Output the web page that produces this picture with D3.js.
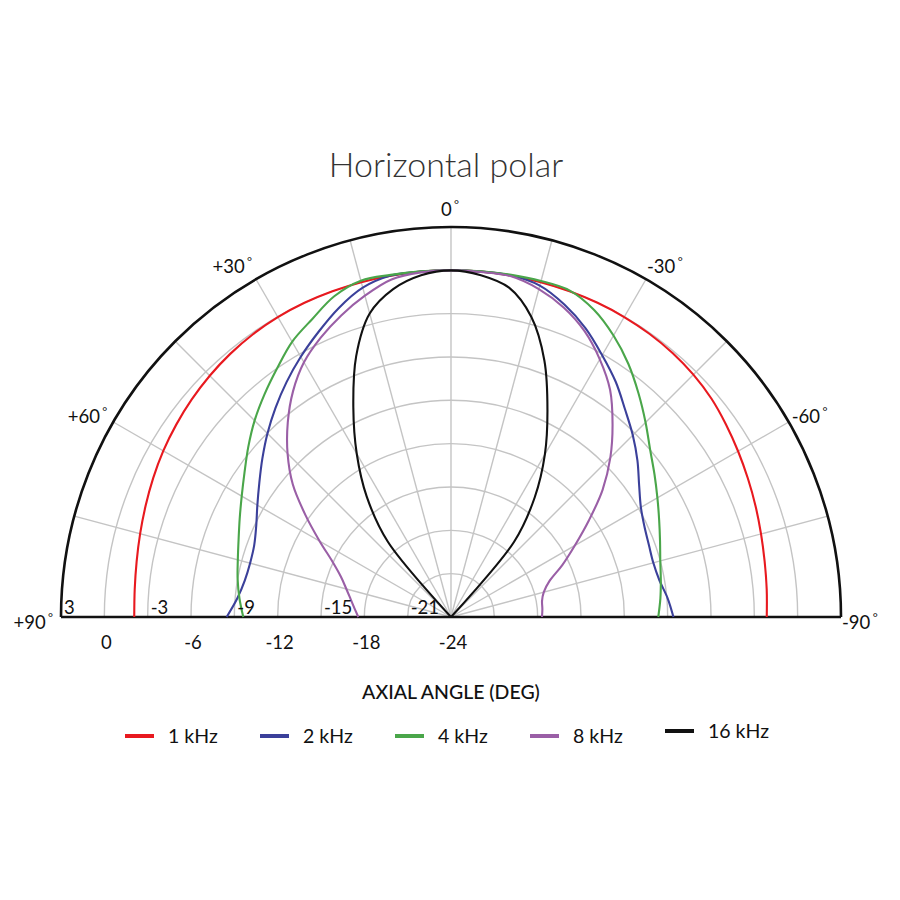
<!DOCTYPE html>
<html>
<head>
<meta charset="utf-8">
<script src="https://cdn.jsdelivr.net/npm/d3@7"></script>
<style>
  body { margin: 0; background: #fff; }
  text { font-family: Lato, "Open Sans", sans-serif; }
</style>
</head>
<body>
<div class="chart"></div>
<script>
var svgWidth = 900;
var svgHeight = 900;

// axial angle in degrees, + is left of axis, - is right
var angles = [90, 85, 80, 75, 70, 65, 60, 55, 50, 45, 40, 35, 30, 25, 20, 15, 10, 5,
  0, -5, -10, -15, -20, -25, -30, -35, -40, -45, -50, -55, -60, -65, -70, -75, -80, -85, -90];

var freqNames = ["1 kHz", "2 kHz", "4 kHz", "8 kHz", "16 kHz"];

// level in dB relative to on-axis, one value per angle
var level1k = [-2.07, -2.02, -1.9, -1.72, -1.5, -1.25, -1.0, -0.78, -0.57, -0.38, -0.22, -0.1, -0.03, 0, 0, 0, 0, 0,
  0, 0, 0, 0, 0, 0, -0.02, -0.06, -0.14, -0.27, -0.47, -0.76, -1.05, -1.32, -1.56, -1.78, -1.95, -2.06, -2.14];
var level2k = [-8.47, -9.15, -9.5, -9.6, -9.5, -9.12, -8.52, -7.8, -6.95, -6.03, -5.1, -4.15, -3.2, -2.25, -1.25, -0.4, 0, 0,
  0, 0, 0, -0.25, -1.0, -1.95, -3.07, -4.12, -5.25, -6.2, -7.15, -8.1, -8.82, -9.22, -9.42, -9.5, -9.35, -8.95, -8.6];
var level4k = [-9.62, -9.3, -9.0, -8.72, -8.35, -7.86, -7.27, -6.55, -5.68, -4.77, -3.9, -3.0, -2.0, -1.25, -0.37, 0.1, 0.05, 0.02,
  0, 0.02, 0.05, 0.08, 0.05, -0.55, -1.5, -2.6, -3.8, -4.95, -6.0, -6.8, -7.5, -8.1, -8.6, -9.0, -9.25, -9.45, -9.65];
var level8k = [-17.58, -17.3, -16.95, -16.5, -15.9, -14.95, -13.5, -11.7, -9.7, -8.0, -6.42, -4.93, -3.64, -2.66, -1.78, -0.97, -0.27, -0.05,
  0, -0.02, -0.05, -0.5, -1.2, -2.15, -3.4, -4.8, -6.6, -8.4, -10.3, -12.35, -14.1, -15.5, -16.75, -17.35, -17.6, -17.65, -17.7];
var level16k = [-24, -24, -24, -24, -24, -24, -24, -24, -24, -24, -17.2, -13.83, -10.95, -8.0, -4.8, -2.25, -0.95, -0.25,
  0, -0.25, -0.85, -2.5, -5.1, -8.2, -11.0, -13.9, -17.2, -24, -24, -24, -24, -24, -24, -24, -24, -24, -24];

var gridLevels = [-21, -18, -15, -12, -9, -6, -3, 0];
var upperTicks = [3, -3, -9, -15, -21];
var lowerTicks = [0, -6, -12, -18, -24];
var spokeAngles = [75, 60, 45, 30, 15, 0, -15, -30, -45, -60, -75];
var angleLabels = [90, 60, 30, 0, -30, -60, -90];

var colors = ["#e8191f", "#3b409a", "#4aa64a", "#9a5fa6", "#111111"];
var series = [level1k, level2k, level4k, level8k, level16k];

var cx = 451, cy = 617;
var R = 390;

var svg = d3.select(".chart")
  .append("svg")
  .attr("width", svgWidth)
  .attr("height", svgHeight);

svg.append("text")
  .attr("x", 446)
  .attr("y", 177)
  .attr("text-anchor", "middle")
  .attr("font-size", "34px")
  .attr("font-weight", 300)
  .attr("fill", "#333")
  .text("Horizontal polar");

var rScale = d3.scaleLinear().domain([-24, 3]).range([0, R]);
var rad = d => d * Math.PI / 180;

var chart = svg.append("g")
  .attr("transform", `translate(${cx}, ${cy})`);

// grid circles
var arc = d3.arc().startAngle(-Math.PI / 2).endAngle(Math.PI / 2);
chart.selectAll(".ring")
  .data(gridLevels)
  .enter()
  .append("path")
  .attr("d", d => arc({innerRadius: rScale(d), outerRadius: rScale(d)}))
  .attr("fill", "none")
  .attr("stroke", "#c4c4c4")
  .attr("stroke-width", 1.4);

// spokes
chart.selectAll(".spoke")
  .data(spokeAngles)
  .enter()
  .append("line")
  .attr("x1", 0)
  .attr("y1", 0)
  .attr("x2", d => -R * Math.sin(rad(d)))
  .attr("y2", d => -R * Math.cos(rad(d)))
  .attr("stroke", "#c4c4c4")
  .attr("stroke-width", 1.4);

// outer edge and baseline
chart.append("path")
  .attr("d", arc({innerRadius: R, outerRadius: R}))
  .attr("fill", "none")
  .attr("stroke", "#111")
  .attr("stroke-width", 2.6);

chart.append("line")
  .attr("x1", -R)
  .attr("x2", R)
  .attr("y1", 0)
  .attr("y2", 0)
  .attr("stroke", "#111")
  .attr("stroke-width", 2.6);

// curves
var line = d3.lineRadial()
  .angle(d => -rad(d.a))
  .radius(d => rScale(Math.max(-24, d.v)))
  .curve(d3.curveCatmullRom.alpha(0.5));

series.forEach(function (vals, i) {
  var pts = angles.map((a, j) => ({a: a, v: vals[j]}));
  chart.append("path")
    .attr("d", line(pts))
    .attr("fill", "none")
    .attr("stroke", colors[i])
    .attr("stroke-width", 2.1);
});

// dB labels on the baseline
chart.selectAll(".uptick")
  .data(upperTicks)
  .enter()
  .append("text")
  .attr("x", d => -rScale(d) + 3)
  .attr("y", -3)
  .attr("font-size", "18.5px")
  .attr("fill", "#111")
  .text(d => d);

chart.selectAll(".lowtick")
  .data(lowerTicks)
  .enter()
  .append("text")
  .attr("x", d => -rScale(d) + 2)
  .attr("y", 32)
  .attr("text-anchor", "middle")
  .attr("font-size", "18.5px")
  .attr("fill", "#111")
  .text(d => d);

// angle labels round the rim
angleLabels.forEach(function (a) {
  var px = -R * Math.sin(rad(a));
  var py = -R * Math.cos(rad(a));
  var anchor = a > 0 ? "end" : (a < 0 ? "start" : "middle");
  var dx, dy;
  if (Math.abs(a) == 90) { dx = a > 0 ? -8 : 1; dy = 12; }
  else if (Math.abs(a) == 60) { dx = a > 0 ? -6 : 3; dy = 1; }
  else if (Math.abs(a) == 30) { dx = a > 0 ? -4 : 1; dy = -6; }
  else { dx = -1; dy = -11; }
  var t = chart.append("text")
    .attr("x", px + dx)
    .attr("y", py + dy)
    .attr("text-anchor", anchor)
    .attr("font-size", "18.5px")
    .attr("fill", "#111");
  t.append("tspan").text((a > 0 ? "+" : "") + a + "\u2009");
  t.append("tspan").attr("font-size", "12px").attr("dy", -7).text("°");
});

// axis title
svg.append("text")
  .attr("x", 451)
  .attr("y", 699)
  .attr("text-anchor", "middle")
  .attr("font-size", "19.5px")
  .attr("font-weight", 500)
  .attr("fill", "#111")
  .text("AXIAL ANGLE (DEG)");

// legend
var legend = svg.selectAll(".legend")
  .data(freqNames)
  .enter()
  .append("g")
  .attr("transform", (d, i) => `translate(${125 + i * 135}, ${i == 4 ? 731 : 736})`);

legend.append("line")
  .attr("x1", 0)
  .attr("x2", 29)
  .attr("stroke", (d, i) => colors[i])
  .attr("stroke-width", 4);

legend.append("text")
  .attr("x", 43)
  .attr("y", 7)
  .attr("font-size", "19.5px")
  .attr("fill", "#111")
  .text(d => d);
</script>
</body>
</html>
